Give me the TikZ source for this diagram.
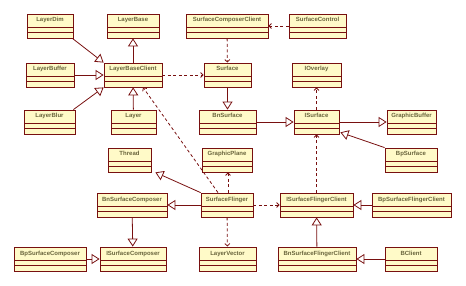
\documentclass[tikz,border=0pt]{standalone}
\usepackage{fontspec}
\setmainfont{Liberation Sans}
\usepackage{tikz}
\usepackage{xcolor}
\usetikzlibrary{arrows.meta, positioning, calc}
\definecolor{umlMaroon}{RGB}{120,16,16}
\definecolor{softYellow}{RGB}{255,250,200}
\definecolor{oliveText}{RGB}{105,100,60}
\tikzset{
    classbox/.style={
        rectangle,
        draw=umlMaroon,
        fill=softYellow,
        line width=0.8pt,
        inner xsep=1pt,
        inner ysep=2.5pt,
        text height=5.5pt,
        text depth=13.5pt,
        align=center,
        text=oliveText,
        font=\fontsize{6}{6.5}\selectfont\bfseries,
        path picture={
            \draw[umlMaroon, line width=0.8pt]
                ([yshift=-13pt]path picture bounding box.north west) -- ([yshift=-13pt]path picture bounding box.north east)
                ([yshift=-18.5pt]path picture bounding box.north west) -- ([yshift=-18.5pt]path picture bounding box.north east);
        }
    },
    genarrow/.style={-{Triangle[open, length=8pt, width=10pt]}, line width=0.8pt, draw=umlMaroon},
    deparrow/.style={-{Straight Barb[length=2.5pt, width=5pt]}, line width=0.8pt, dashed, dash pattern=on 3pt off 2.5pt, draw=umlMaroon}
}
\begin{document}
\begin{tikzpicture}[x=1pt, y=-1pt]
    \useasboundingbox (0,0) rectangle (466,286);
    % row 1
    \node[classbox, minimum width=46pt] (layerDim) at (50,26) {LayerDim};
    \node[classbox, minimum width=52pt] (layerBase) at (133,26) {LayerBase};
    \node[classbox, minimum width=82pt] (composerClient) at (227,26) {SurfaceComposerClient};
    \node[classbox, minimum width=57pt] (surfaceControl) at (317.5,26) {SurfaceControl};
    % row 2
    \node[classbox, minimum width=48pt] (layerBuffer) at (50,75) {LayerBuffer};
    \node[classbox, minimum width=58pt] (layerBaseClient) at (133,75) {LayerBaseClient};
    \node[classbox, minimum width=47pt] (surface) at (227.5,75) {Surface};
    \node[classbox, minimum width=49pt] (iOverlay) at (316.5,75) {IOverlay};
    % row 3
    \node[classbox, minimum width=51pt] (layerBlur) at (49.5,122) {LayerBlur};
    \node[classbox, minimum width=45pt] (layer) at (133.5,122) {Layer};
    \node[classbox, minimum width=57pt] (bnSurface) at (227.5,122) {BnSurface};
    \node[classbox, minimum width=45pt] (iSurface) at (316.5,122) {ISurface};
    \node[classbox, minimum width=49pt] (graphicBuffer) at (411.5,122) {GraphicBuffer};
    % row 4
    \node[classbox, minimum width=43pt] (thread) at (129.5,160) {Thread};
    \node[classbox, minimum width=50pt] (graphicPlane) at (227,160) {GraphicPlane};
    \node[classbox, minimum width=52pt] (bpSurface) at (411,160) {BpSurface};
    % row 5
    \node[classbox, minimum width=70pt] (bnComposer) at (132,205) {BnSurfaceComposer};
    \node[classbox, minimum width=52pt] (flinger) at (227,205) {SurfaceFlinger};
    \node[classbox, minimum width=73pt] (iFlingerClient) at (316.5,205) {ISurfaceFlingerClient};
    \node[classbox, minimum width=79pt] (bpFlingerClient) at (411.5,205) {BpSurfaceFlingerClient};
    % row 6
    \node[classbox, minimum width=72pt] (bpComposer) at (50,259) {BpSurfaceComposer};
    \node[classbox, minimum width=66pt] (iComposer) at (133,259) {ISurfaceComposer};
    \node[classbox, minimum width=57pt] (layerVector) at (227.5,259) {LayerVector};
    \node[classbox, minimum width=78pt] (bnFlingerClient) at (317,259) {BnSurfaceFlingerClient};
    \node[classbox, minimum width=52pt] (bClient) at (411,259) {BClient};

    % generalisations
    \draw[genarrow] ([xshift=-1pt]layerDim.south east) -- (layerBaseClient.north west);
    \draw[genarrow] (layerBuffer) -- (layerBaseClient);
    \draw[genarrow] ([xshift=-2pt]layerBlur.north east) -- (layerBaseClient.south west);
    \draw[genarrow] (layerBaseClient) -- (layerBase);
    \draw[genarrow] (layer) -- (layerBaseClient);
    \draw[genarrow] (surface) -- (bnSurface);
    \draw[genarrow] (bnSurface) -- (iSurface);
    \draw[genarrow] (iSurface) -- (graphicBuffer);
    \draw[genarrow] (bpSurface.north west) -- ([xshift=1pt,yshift=2pt]iSurface.south east);
    \draw[genarrow] (flinger.north west) -- ([xshift=4pt]thread.south east);
    \draw[genarrow] (flinger) -- (bnComposer);
    \draw[genarrow] (bnComposer) -- (iComposer);
    \draw[genarrow] (bpComposer) -- (iComposer);
    \draw[genarrow] (bpFlingerClient) -- (iFlingerClient);
    \draw[genarrow] (bnFlingerClient) -- (iFlingerClient);
    \draw[genarrow] (bClient) -- (bnFlingerClient);

    % dependencies
    \draw[deparrow] (layerBaseClient) -- (surface);
    \draw[deparrow] (composerClient) -- (surface);
    \draw[deparrow] (surfaceControl) -- (composerClient);
    \draw[deparrow] (iSurface) -- (iOverlay);
    \draw[deparrow] (iFlingerClient) -- (iSurface);
    \draw[deparrow] ([xshift=-9pt]flinger.north) -- ([xshift=10pt]layerBaseClient.south);
    \draw[deparrow] ([xshift=1pt]flinger.north) -- ([xshift=1pt]graphicPlane.south);
    \draw[deparrow] (flinger) -- (iFlingerClient);
    \draw[deparrow] (flinger) -- (layerVector);
\end{tikzpicture}
\end{document}
